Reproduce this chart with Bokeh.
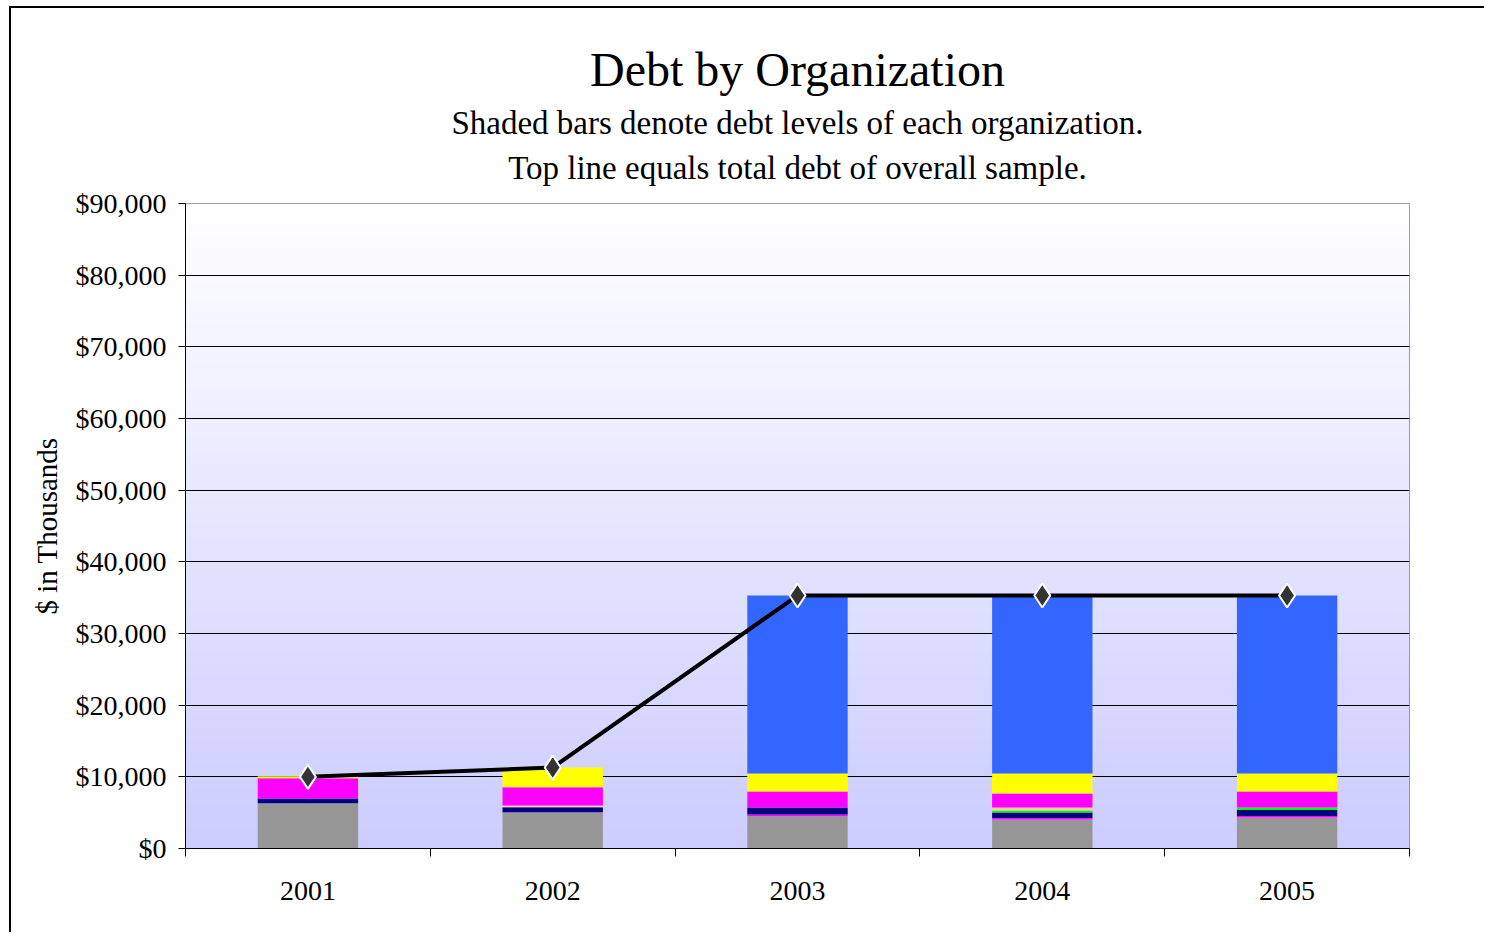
import numpy as np
from bokeh.plotting import figure
from bokeh.models import ColumnDataSource, FixedTicker, NumeralTickFormatter, Title, Range1d
from bokeh.embed import file_html
from bokeh.resources import INLINE

years = ["2001", "2002", "2003", "2004", "2005"]
gray = [6320, 5070, 4510, 4050, 4330]
pink_thin = [0, 0, 230, 190, 190]
navy = [650, 700, 980, 790, 840]
green = [0, 0, 0, 280, 370]
peach = [0, 230, 0, 420, 0]
magenta = [2840, 2560, 2230, 1950, 2230]
yellow = [280, 2750, 2510, 2790, 2510]
blue = [0, 0, 24840, 24830, 24830]
total = [10000, 11300, 35300, 35300, 35300]

series_names = ["gray", "pink_thin", "navy", "green", "peach", "magenta", "yellow", "blue"]
series_vals = [gray, pink_thin, navy, green, peach, magenta, yellow, blue]
series_colors = ["#969696", "#FF00FF", "#000080", "#00FF00", "#FFCC99", "#FF00FF", "#FFFF00", "#3366FF"]

FONT = "Liberation Serif"

xs = list(range(1, len(years) + 1))
data = {"x": xs}
for n, v in zip(series_names, series_vals):
    data[n] = v
src = ColumnDataSource(data)

p = figure(width=1475, height=926, output_backend="svg", toolbar_location=None,
           x_range=Range1d(0.5, 5.5), y_range=Range1d(0, 90000),
           min_border_left=174, min_border_right=77, min_border_top=195, min_border_bottom=86,
           styles={"border-left": "2px solid #000", "border-top": "2px solid #000",
                   "margin-left": "9px", "margin-top": "6px"})
p.title.text = ""

# gradient background
N = 256
img = np.zeros((N, 1), dtype=np.uint32)
view = img.view(dtype=np.uint8).reshape((N, 1, 4))
for i in range(N):
    t = i / (N - 1)  # 0 bottom, 1 top
    c = int(round(204 + (255 - 204) * t))
    view[i, 0, 0] = c
    view[i, 0, 1] = c
    view[i, 0, 2] = 255
    view[i, 0, 3] = 255
bg = p.image_rgba(image=[img], x=0.5, y=0, dw=5.0, dh=90000)
bg.level = "image"

p.vbar_stack(series_names, x="x", width=0.41, color=series_colors, line_color=None, source=src)

p.line(xs, total, line_color="black", line_width=4)
p.scatter(xs, total, marker="diamond", size=24, fill_color="#333333", line_color="white", line_width=2)

# titles
for txt, size, so in [("Top line equals total debt of overall sample.", "33px", 35),
                      ("Shaded bars denote debt levels of each organization.", "33px", -21),
                      ("Debt by Organization", "48px", 36)]:
    t = Title(text=txt, align="center", text_font=FONT, text_font_size=size,
              text_font_style="normal", text_color="black", standoff=so)
    p.add_layout(t, "above")

p.outline_line_color = "#808080"
p.outline_line_width = 1
p.background_fill_color = None
p.border_fill_color = "white"

# y axis
p.yaxis.ticker = FixedTicker(ticks=list(range(0, 90001, 10000)))
p.yaxis.formatter = NumeralTickFormatter(format="$0,0")
p.yaxis.axis_label = "$ in Thousands"
p.yaxis.axis_label_text_font = FONT
p.yaxis.axis_label_text_font_size = "29px"
p.yaxis.axis_label_text_font_style = "normal"
p.yaxis.axis_label_text_color = "black"
p.yaxis.axis_label_standoff = 10
p.yaxis.major_label_text_font = FONT
p.yaxis.major_label_text_font_size = "28px"
p.yaxis.major_label_text_color = "black"
p.yaxis.major_label_standoff = 12
p.yaxis.major_tick_out = 7
p.yaxis.major_tick_in = 0
p.yaxis.minor_tick_line_color = None
p.yaxis.axis_line_color = "black"
p.yaxis.major_tick_line_color = "black"

# x axis
p.xaxis.ticker = FixedTicker(ticks=xs, minor_ticks=[x - 0.5 for x in xs] + [xs[-1] + 0.5])
p.xaxis.major_label_overrides = {x: y for x, y in zip(xs, years)}
p.xaxis.major_label_text_font = FONT
p.xaxis.major_label_text_font_size = "28px"
p.xaxis.major_label_text_color = "black"
p.xaxis.major_label_standoff = 25
p.xaxis.major_tick_out = 0
p.xaxis.major_tick_in = 0
p.xaxis.minor_tick_out = 8
p.xaxis.minor_tick_in = 0
p.xaxis.minor_tick_line_color = "black"
p.xaxis.axis_line_color = "black"

p.xgrid.grid_line_color = None
p.ygrid.grid_line_color = "black"
p.ygrid.grid_line_width = 1
p.ygrid.level = "underlay"

open("out.html", "w").write(file_html(p, INLINE))
